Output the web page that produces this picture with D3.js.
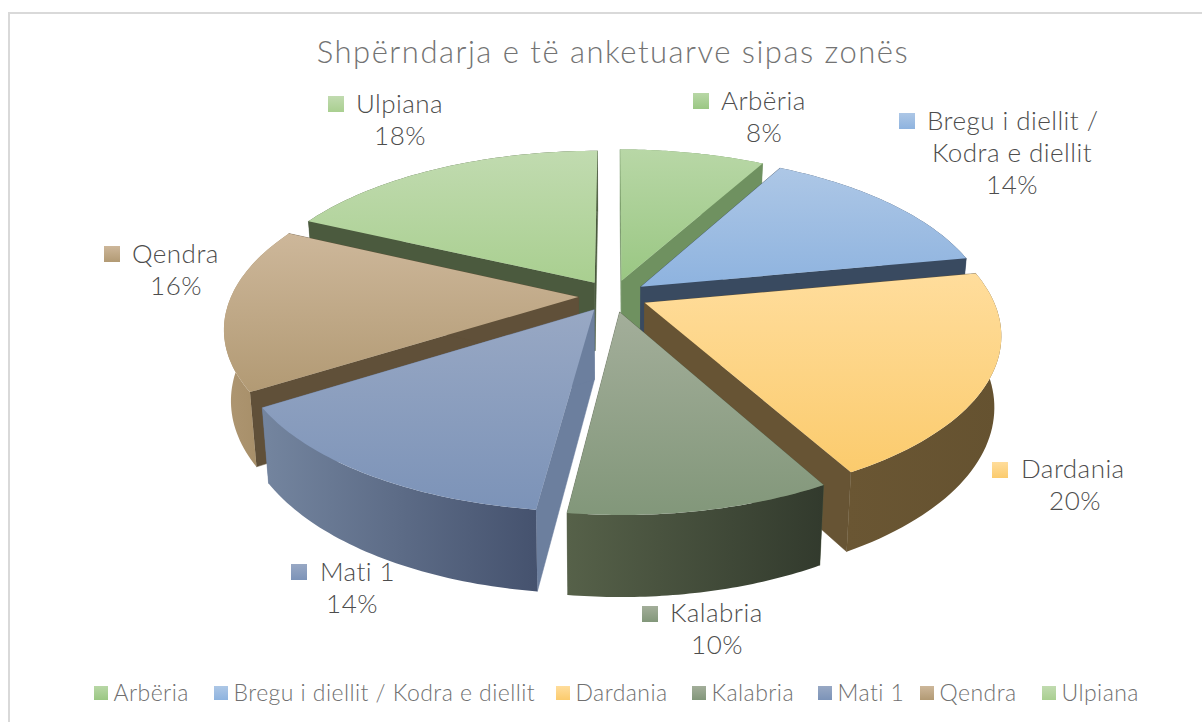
<!DOCTYPE html>
<html>
<head>
<meta charset="utf-8">
<script src="https://cdn.jsdelivr.net/npm/d3@7"></script>
<style>
html,body{margin:0;padding:0;background:#fff;overflow:hidden}
text{font-family:Lato,"Open Sans",sans-serif;font-weight:300}
</style>
</head>
<body>
<svg id="c" width="1202" height="722"></svg>
<script>
const titleText = "Shpërndarja e të anketuarve sipas zonës";
const categories = ["Arbëria","Bregu i diellit / Kodra e diellit","Dardania","Kalabria","Mati 1","Qendra","Ulpiana"];
const values = [8,14,20,10,14,16,18];
const labelLines = [["Arbëria"],["Bregu i diellit /","Kodra e diellit"],["Dardania"],["Kalabria"],["Mati 1"],["Qendra"],["Ulpiana"]];

const topLight = ["#b8d7a6","#adc7e6","#ffdd9c","#a3ae9a","#98a8c4","#cdb79a","#c1dbb0"];
const topDark  = ["#9ac783","#8eb3df","#fbcb6d","#82977a","#7c93b8","#b29a74","#a9cf90"];
const radialWall = ["#6f9160","#394a60","#675434","#4c5741","#6c7f9e","#605039","#4b5a3e"];
const rimLeft  = ["#6f9160","#394a60","#6a5633","#566149","#74859f","#ae9672","#4b5a3e"];
const rimRight = ["#6f9160","#394a60","#655230","#323a2d","#45526e","#a08860","#4b5a3e"];

const svg = d3.select("#c");
const W = 1202, H = 722;

// Frame
svg.append("rect").attr("x",9).attr("y",13).attr("width",W+20).attr("height",H+20)
  .attr("fill","#fff").attr("stroke","#d9d9d9").attr("stroke-width",2);

// Title
svg.append("text").attr("x",613).attr("y",63).attr("text-anchor","middle")
  .attr("font-size",31).attr("letter-spacing",1.5).attr("fill","#737373").text(titleText);

// Perspective pie model
const cx = 613, cy = 296, A = 347, B = 160, k = 0.18, drop = 69, shrink = 0.018, explode = 0.1;
const proj = (x,y,bottom) => {
  const s = 1/(1-k*y), f = bottom ? 1-shrink : 1;
  return [cx + A*x*s*f, cy + B*y*s*f + (bottom ? drop*s : 0)];
};
const pie = d3.pie().sort(null).startAngle(0).endAngle(2*Math.PI);
const arcs = pie(values);
const line = d3.line();
// plane coordinates: y>0 is toward the viewer
const slices = arcs.map((a,i)=>{
  const mid=(a.startAngle+a.endAngle)/2;
  const ox=explode*Math.sin(mid), oy=-explode*Math.cos(mid);
  const pt=(r,t,b)=>proj(ox+r*Math.sin(t),oy-r*Math.cos(t),b);
  const steps=d3.range(0,49).map(j=>a.startAngle+(a.endAngle-a.startAngle)*j/48);
  return {i,mid,pt,steps,a,depth:oy};
});

const defs = svg.append("defs");
categories.forEach((c,i)=>{
  const g=defs.append("linearGradient").attr("id","top"+i).attr("x1",0).attr("y1",0).attr("x2",0).attr("y2",1);
  g.append("stop").attr("offset",0).attr("stop-color",topLight[i]);
  g.append("stop").attr("offset",1).attr("stop-color",topDark[i]);
  const r=defs.append("linearGradient").attr("id","rim"+i).attr("x1",0).attr("y1",0).attr("x2",1).attr("y2",0);
  r.append("stop").attr("offset",0).attr("stop-color",rimLeft[i]);
  r.append("stop").attr("offset",1).attr("stop-color",rimRight[i]);
});

const pieG = svg.append("g");
slices.slice().sort((p,q)=>p.depth-q.depth).forEach(s=>{
  const g=pieG.append("g");
  const t0=s.a.startAngle,t1=s.a.endAngle;
  [t0,t1].forEach(t=>{
    g.append("path").attr("d",line([s.pt(0,t,false),s.pt(1,t,false),s.pt(1,t,true),s.pt(0,t,true)])+"Z")
      .attr("fill",radialWall[s.i]).attr("stroke",radialWall[s.i]).attr("stroke-width",0.5);
  });
  const rimTop=s.steps.map(t=>s.pt(1,t,false));
  const rimBot=s.steps.map(t=>s.pt(1,t,true)).reverse();
  g.append("path").attr("d",line(rimTop.concat(rimBot))+"Z").attr("fill",`url(#rim${s.i})`);
  g.append("path").attr("d",line([s.pt(0,t0,false)].concat(rimTop))+"Z").attr("fill",`url(#top${s.i})`);
});

// Data labels: anchor = marker left, first-line baseline centre
const labelLayout = [
  {mx:693,my:93,tx:721,cx:764,y:110},
  {mx:899,my:113,tx:927,cx:1012,y:130},
  {mx:992,my:462,tx:1021,cx:1075,y:478},
  {mx:642,my:606,tx:670,cx:717,y:622},
  {mx:291,my:564,tx:320,cx:352,y:581},
  {mx:104,my:246,tx:132,cx:176,y:263},
  {mx:328,my:96,tx:356,cx:400,y:113}
];
const lineGap = 32;
const labelFont = {size:26, spacing:0.45};
const labelText = (sel)=>sel.attr("font-size",labelFont.size).attr("letter-spacing",labelFont.spacing).attr("fill","#4d4d4d");
categories.forEach((c,i)=>{
  const L=labelLayout[i], lines=labelLines[i];
  svg.append("rect").attr("x",L.mx).attr("y",L.my).attr("width",16).attr("height",16).attr("fill",`url(#top${i})`);
  svg.append("text").attr("x",L.tx).attr("y",L.y).call(labelText).text(lines[0]);
  let y=L.y;
  lines.slice(1).forEach(t=>{y+=lineGap;svg.append("text").attr("x",L.cx).attr("y",y).attr("text-anchor","middle").call(labelText).text(t);});
  y+=lineGap;
  svg.append("text").attr("x",L.cx).attr("y",y).attr("text-anchor","middle").call(labelText).text(values[i]+"%");
});

// Legend
const legendX=[94,214,556,692,818,920,1042];
categories.forEach((c,i)=>{
  svg.append("rect").attr("x",legendX[i]).attr("y",686).attr("width",14).attr("height",14).attr("fill",`url(#top${i})`);
  svg.append("text").attr("x",legendX[i]+19.5).attr("y",701).attr("font-size",23).attr("letter-spacing",0.45).attr("fill","#707070").text(c);
});
</script>
</body>
</html>
